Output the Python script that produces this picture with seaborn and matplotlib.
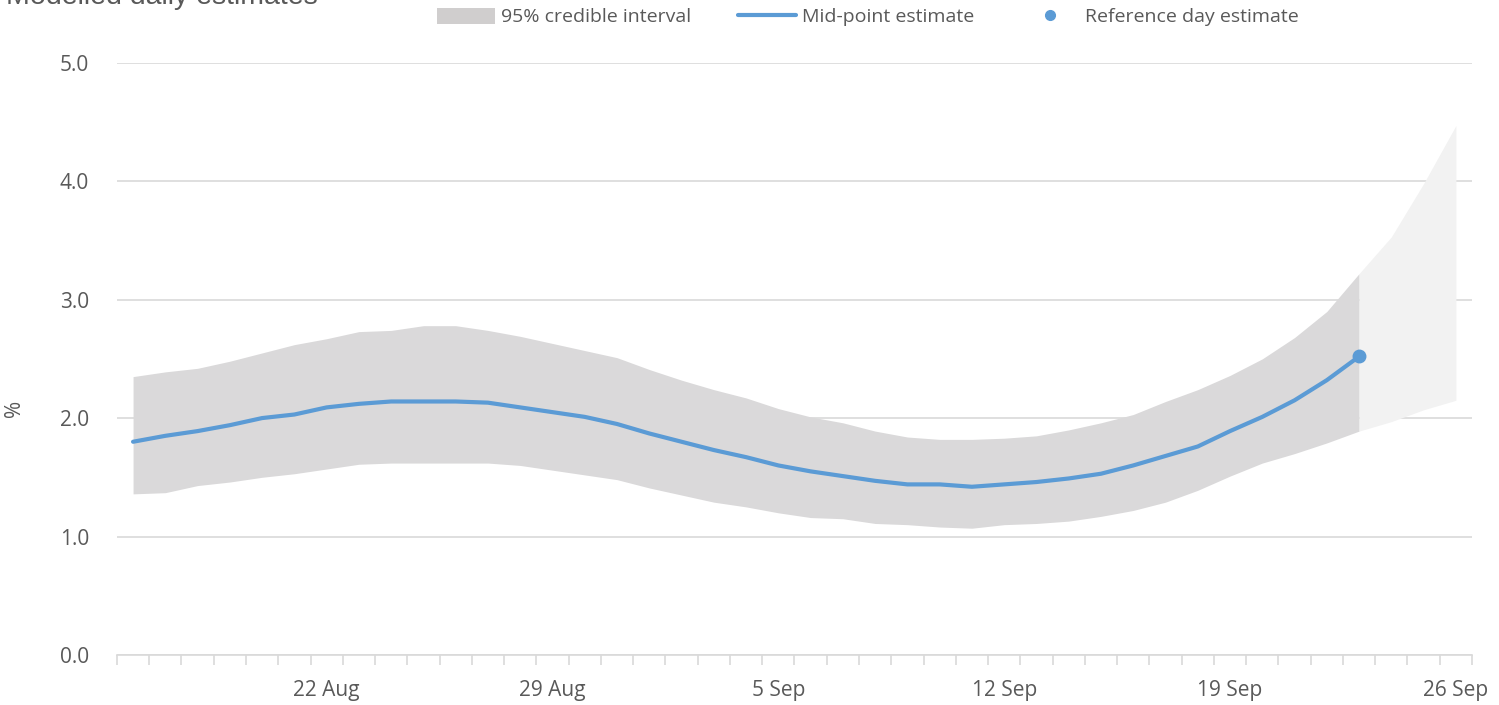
import numpy as np
import pandas as pd
import matplotlib
matplotlib.use("Agg")
import matplotlib.pyplot as plt
from matplotlib.patches import Patch
from matplotlib.lines import Line2D
import seaborn as sns

# ---------------------------------------------------------
# Data (16 Aug - 26 Sep, daily)
# ---------------------------------------------------------
dates = pd.date_range("2020-08-16", periods=42, freq="D")

mid = [1.80, 1.85, 1.89, 1.94, 2.00, 2.03, 2.09, 2.12, 2.14, 2.14,
       2.14, 2.13, 2.09, 2.05, 2.01, 1.95, 1.87, 1.80, 1.73, 1.67,
       1.60, 1.55, 1.51, 1.47, 1.44, 1.44, 1.42, 1.44, 1.46, 1.49,
       1.53, 1.60, 1.68, 1.76, 1.89, 2.01, 2.15, 2.32, 2.52]

upper = [2.35, 2.39, 2.42, 2.48, 2.55, 2.62, 2.67, 2.73, 2.74, 2.78,
         2.78, 2.74, 2.69, 2.63, 2.57, 2.51, 2.41, 2.32, 2.24, 2.17,
         2.08, 2.01, 1.96, 1.89, 1.84, 1.82, 1.82, 1.83, 1.85, 1.90,
         1.96, 2.03, 2.14, 2.24, 2.36, 2.50, 2.68, 2.90, 3.22,
         3.53, 3.98, 4.47]

lower = [1.36, 1.37, 1.43, 1.46, 1.50, 1.53, 1.57, 1.61, 1.62, 1.62,
         1.62, 1.62, 1.60, 1.56, 1.52, 1.48, 1.41, 1.35, 1.29, 1.25,
         1.20, 1.16, 1.15, 1.11, 1.10, 1.08, 1.07, 1.10, 1.11, 1.13,
         1.17, 1.22, 1.29, 1.39, 1.51, 1.62, 1.70, 1.79, 1.89,
         1.97, 2.07, 2.15]

label_days = ["22 Aug", "29 Aug", "5 Sep", "12 Sep", "19 Sep", "26 Sep"]

# ---------------------------------------------------------
# Build frame
# ---------------------------------------------------------
x_all = np.arange(len(dates))
ref_idx = len(mid) - 1
mid_df = pd.DataFrame({"x": x_all[:len(mid)], "mid": mid})

grey_text = "#595959"
blue = "#5B9BD5"
dark_band = "#DAD9DA"
light_band = "#F2F2F2"
grid_col = "#D9D9D9"

sns.set_theme(style="white")
plt.rcParams["font.family"] = ["Open Sans", "DejaVu Sans"]

fig = plt.figure(figsize=(14.99, 7.05), dpi=100)
ax = fig.add_axes([0.078, 0.071, 0.904, 0.840])

# credible interval: dark up to the reference day, light afterwards
ax.fill_between(x_all[:ref_idx + 1], lower[:ref_idx + 1], upper[:ref_idx + 1],
                color=dark_band, linewidth=0, zorder=1)
ax.fill_between(x_all[ref_idx:], lower[ref_idx:], upper[ref_idx:],
                color=light_band, linewidth=0, zorder=1)

sns.lineplot(data=mid_df, x="x", y="mid", ax=ax, color=blue, linewidth=3,
             zorder=3)
ax.plot(mid_df["x"].iloc[-1], mid_df["mid"].iloc[-1], "o", color=blue,
        markersize=9, zorder=4)

# axes styling
ax.set_xlim(-0.5, len(dates) - 0.5)
ax.set_ylim(0, 5)
ax.set_yticks(np.arange(0, 5.01, 1.0))
ax.set_yticklabels([f"{v:.1f}" for v in np.arange(0, 5.01, 1.0)])
ax.yaxis.grid(True, color=grid_col, linewidth=1.2, zorder=0)
ax.set_axisbelow(True)

lab_pos = [i for i, d in enumerate(dates) if f"{d.day} {d.strftime('%b')}" in label_days]
ax.set_xticks(lab_pos)
ax.set_xticklabels([f"{dates[i].day} {dates[i].strftime('%b')}" for i in lab_pos])
ax.set_xticks(np.arange(-0.5, len(dates), 1.0), minor=True)
ax.tick_params(axis="x", which="major", length=0, pad=18, labelsize=15,
               labelcolor=grey_text)
ax.tick_params(axis="x", which="minor", length=7, width=1.2, color=grid_col,
               bottom=True)
ax.tick_params(axis="y", length=0, pad=20, labelsize=15, labelcolor=grey_text)

for s in ["top", "right", "left"]:
    ax.spines[s].set_visible(False)
ax.spines["bottom"].set_color(grid_col)
ax.spines["bottom"].set_linewidth(1.2)

ax.set_xlabel("")
ax.set_ylabel("%", fontsize=15, color=grey_text)
ax.yaxis.set_label_coords(-0.068, 0.417)

# title, partly cut off at the top like the reference
fig.text(0.004, 0.994, "Modelled daily estimates", fontsize=20.5,
         color=grey_text, family=["Liberation Sans", "DejaVu Sans"],
         ha="left", va="baseline")

handles = [
    Patch(facecolor="#D0CECE", edgecolor="none", label="95% credible interval"),
    Line2D([0], [0], color=blue, linewidth=3, label="Mid-point estimate"),
    Line2D([0], [0], color=blue, marker="o", linestyle="none", markersize=7,
           label="Reference day estimate"),
]
fig.legend(handles=handles, loc="center", bbox_to_anchor=(0.579, 0.976),
           ncol=3, frameon=False, fontsize=14, labelcolor=grey_text,
           handlelength=3.0, handleheight=0.9, handletextpad=0.3,
           columnspacing=2.4)

fig.savefig("out.png", dpi=100)
